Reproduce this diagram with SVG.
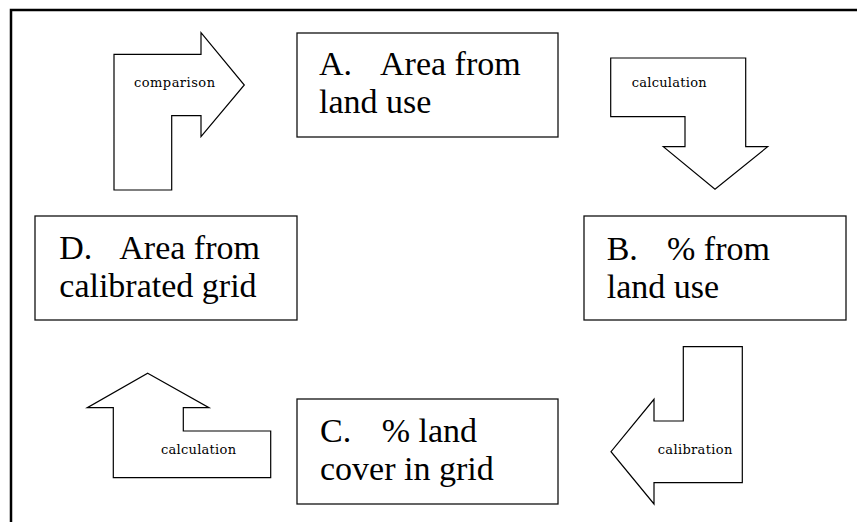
<svg xmlns="http://www.w3.org/2000/svg" width="857" height="522" viewBox="0 0 857 522">
  <style>
    .box { fill: #ffffff; stroke: #111111; stroke-width: 1.3; }
    .arrow { fill: #ffffff; stroke: #000000; stroke-width: 1.2; stroke-linejoin: miter; }
    .big { font-family: 'Liberation Serif', 'Times New Roman', serif; font-size: 34px; fill: #000000; }
    .small { font-family: 'DejaVu Serif', 'Liberation Serif', serif; font-size: 13px; fill: #000000; }
    .frame { stroke: #000000; stroke-width: 2.5; fill: none; }
  </style>
  <rect x="0" y="0" width="857" height="522" fill="#ffffff"/>
  <polyline class="frame" points="11,522 11,10 857,10"/>

  <g id="connectors">
    <g id="arrow-comparison">
      <polygon class="arrow" points="114,190 114,54.3 201,54.3 201,32.7 244.3,85 201,136.7 201,115.7 171.7,115.7 171.7,190"/>
      <text class="small" x="134" y="87" textLength="81" lengthAdjust="spacing">comparison</text>
    </g>
    <g id="arrow-calculation-1">
      <polygon class="arrow" points="610.7,58 745.7,58 745.7,146.7 767.7,146.7 715,189.3 663.3,146.7 685,146.7 685,116.7 610.7,116.7"/>
      <text class="small" x="631.7" y="87" textLength="75" lengthAdjust="spacing">calculation</text>
    </g>
    <g id="arrow-calibration">
      <polygon class="arrow" points="683.3,346.7 742.3,346.7 742.3,482.7 654,482.7 654,504 611,451.7 654,399.3 654,421 683.3,421"/>
      <text class="small" x="657.7" y="454" textLength="74.6" lengthAdjust="spacing">calibration</text>
    </g>
    <g id="arrow-calculation-2">
      <polygon class="arrow" points="147.7,373.3 209,407.7 183.3,407.7 183.3,431 270.7,431 270.7,477.7 113.3,477.7 113.3,407.7 87.3,407.7"/>
      <text class="small" x="161" y="454" textLength="75" lengthAdjust="spacing">calculation</text>
    </g>
  </g>

  <g id="node-A">
    <rect class="box" x="297" y="33" width="261" height="104"/>
    <text class="big" x="319" y="75">A.</text>
    <text class="big" x="380" y="75">Area from</text>
    <text class="big" x="319" y="113">land use</text>
  </g>

  <g id="node-B">
    <rect class="box" x="584" y="216" width="262" height="104"/>
    <text class="big" x="606.7" y="260">B.</text>
    <text class="big" x="667" y="260">% from</text>
    <text class="big" x="606.7" y="298">land use</text>
  </g>

  <g id="node-C">
    <rect class="box" x="297" y="399" width="261" height="105"/>
    <text class="big" x="320" y="442">C.</text>
    <text class="big" x="381.7" y="442">% land</text>
    <text class="big" x="320" y="480">cover in grid</text>
  </g>

  <g id="node-D">
    <rect class="box" x="35" y="216" width="262" height="104"/>
    <text class="big" x="59.3" y="258.5">D.</text>
    <text class="big" x="119.3" y="258.5">Area from</text>
    <text class="big" x="59.3" y="296.7">calibrated grid</text>
  </g>
</svg>
